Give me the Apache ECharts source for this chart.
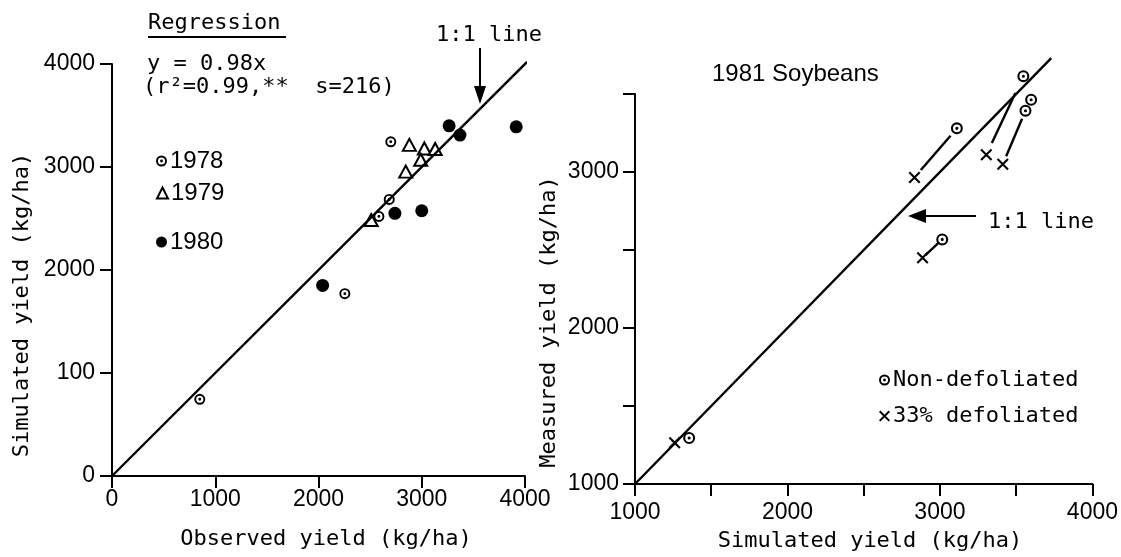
<!DOCTYPE html>
<html>
<head>
<meta charset="utf-8">
<script src="https://cdn.jsdelivr.net/npm/echarts@6/dist/echarts.min.js"></script>
<style>
  html, body { margin: 0; padding: 0; background: #fff; }
  #chart { width: 1121px; height: 557px; }
</style>
</head>
<body>
<div id="chart"></div>
<script>
// left panel: observed vs simulated yield (kg/ha)
const pts1978 = [[2700, 3245], [2685, 2685], [2585, 2520], [850, 745], [2255, 1770]];
const pts1979 = [[2880, 3215], [3025, 3180], [3130, 3175], [2990, 3070], [2845, 2955], [2510, 2485]];
const pts1980 = [[3265, 3400], [3370, 3310], [3915, 3390], [2740, 2550], [3000, 2575], [2040, 1850]];
const leftLine = [[0, 0], [4020, 4020]];
const leftXLabels = ["0", "1000", "2000", "3000", "4000"];
const leftYLabels = ["0", "100", "2000", "3000", "4000"];

// right panel: 1981 soybeans, simulated vs measured
const nonDefoliated = [[3547, 3614], [3598, 3463], [3561, 3393], [3111, 3280], [3015, 2568], [1355, 1295]];
const defoliated33 = [[3304, 3110], [3412, 3050], [2833, 2965], [2886, 2450], [1260, 1265]];
const pairs = [[0, 0], [2, 1], [3, 2], [4, 3]]; // nonDefoliated idx -> defoliated33 idx
const rightLine = [[1000, 1000], [3730, 3730]];
const rightXLabels = { 1000: "1000", 2000: "2000", 3000: "3000", 4000: "4000" };
const rightYLabels = { 1000: "1000", 2000: "2000", 3000: "3000" };

const MONO = "DejaVu Sans Mono";
const SANS = "Liberation Sans";
const dotCircle = "path://M0,-10A10,10 0 1,1 0,10A10,10 0 1,1 0,-10ZM0,-6.5A6.5,6.5 0 1,0 0,6.5A6.5,6.5 0 1,0 0,-6.5ZM0,-2.6A2.6,2.6 0 1,1 0,2.6A2.6,2.6 0 1,1 0,-2.6Z";
const xMark = "path://M-10,-7.5L-7.5,-10L10,7.5L7.5,10ZM7.5,-10L10,-7.5L-7.5,10L-10,7.5Z";

// connector segments between paired points, trimmed a little at both ends
const segments = pairs.map(([a, b]) => {
  const p = defoliated33[b], q = nonDefoliated[a];
  const t0 = 0.15, t1 = 0.85;
  return {
    coords: [
      [p[0] + (q[0] - p[0]) * t0, p[1] + (q[1] - p[1]) * t0],
      [p[0] + (q[0] - p[0]) * t1, p[1] + (q[1] - p[1]) * t1]
    ]
  };
});

const axisCommon = {
  type: "value",
  splitLine: { show: false },
  axisLine: { show: true, onZero: false, lineStyle: { color: "#000", width: 2 } },
  axisTick: { show: true, length: 12, lineStyle: { color: "#000", width: 2 } },
  axisLabel: { color: "#000", fontFamily: SANS, fontSize: 23, margin: 18 }
};

function legendItem(name, left, top) {
  return {
    data: [name],
    left: left,
    top: top,
    orient: "vertical",
    selectedMode: false,
    itemWidth: 11,
    itemHeight: 11,
    itemGap: 4,
    textStyle: { color: "#000", fontFamily: name.length === 4 ? SANS : MONO, fontSize: name.length === 4 ? 24 : 22, padding: [0, 0, 0, -2] }
  };
}

let chartDom = document.getElementById("chart");
let myChart = echarts.init(chartDom);
let option;

option = {
  animation: false,
  backgroundColor: "#fff",
  grid: [
    { left: 112, top: 64, width: 413, height: 412 },
    { left: 635, top: 94, width: 467, height: 390 }
  ],
  xAxis: [
    Object.assign({}, axisCommon, {
      gridIndex: 0, min: 0, max: 4000, interval: 1000,
      axisLabel: Object.assign({}, axisCommon.axisLabel, {
        margin: 12,
        formatter: v => leftXLabels[Math.round(v / 1000)]
      })
    }),
    Object.assign({}, axisCommon, {
      gridIndex: 1, min: 1000, max: 4000, interval: 500,
      axisLabel: Object.assign({}, axisCommon.axisLabel, {
        margin: 17,
        formatter: v => rightXLabels[v] || ""
      })
    })
  ],
  yAxis: [
    Object.assign({}, axisCommon, {
      gridIndex: 0, min: 0, max: 4000, interval: 1000,
      axisLabel: Object.assign({}, axisCommon.axisLabel, {
        margin: 17,
        formatter: v => leftYLabels[Math.round(v / 1000)]
      })
    }),
    Object.assign({}, axisCommon, {
      gridIndex: 1, min: 1000, max: 3500, interval: 500,
      axisLabel: Object.assign({}, axisCommon.axisLabel, {
        margin: 16,
        formatter: v => rightYLabels[v] || ""
      })
    })
  ],
  legend: [
    legendItem("1978", 151, 144),
    legendItem("1979", 151, 176),
    legendItem("1980", 151, 225),
    legendItem("Non-defoliated", 874, 364),
    legendItem("33% defoliated", 874, 400)
  ],
  series: [
    {
      name: "1:1 left", type: "line", xAxisIndex: 0, yAxisIndex: 0,
      data: leftLine, symbol: "none", clip: false, silent: true,
      lineStyle: { color: "#000", width: 2.4 }
    },
    {
      name: "1978", type: "scatter", xAxisIndex: 0, yAxisIndex: 0,
      data: pts1978, symbol: dotCircle, symbolSize: 11, clip: false,
      itemStyle: { color: "#000", opacity: 1 }
    },
    {
      name: "1979", type: "scatter", xAxisIndex: 0, yAxisIndex: 0,
      data: pts1979, symbol: "emptyTriangle", symbolSize: [13, 12], clip: false,
      itemStyle: { color: "#000", borderColor: "#000", borderWidth: 2, opacity: 1 }
    },
    {
      name: "1980", type: "scatter", xAxisIndex: 0, yAxisIndex: 0,
      data: pts1980, symbol: "circle", symbolSize: 13, clip: false,
      itemStyle: { color: "#000", opacity: 1 }
    },
    {
      name: "1:1 right", type: "line", xAxisIndex: 1, yAxisIndex: 1,
      data: rightLine, symbol: "none", clip: false, silent: true,
      lineStyle: { color: "#000", width: 2.4 }
    },
    {
      name: "pairs", type: "lines", coordinateSystem: "cartesian2d",
      xAxisIndex: 1, yAxisIndex: 1, data: segments, silent: true,
      lineStyle: { color: "#000", width: 2.4, opacity: 1 }
    },
    {
      name: "Non-defoliated", type: "scatter", xAxisIndex: 1, yAxisIndex: 1,
      data: nonDefoliated, symbol: dotCircle, symbolSize: 12, clip: false,
      itemStyle: { color: "#000", opacity: 1 }
    },
    {
      name: "33% defoliated", type: "scatter", xAxisIndex: 1, yAxisIndex: 1,
      data: defoliated33, symbol: xMark, symbolSize: 12, clip: false,
      itemStyle: { color: "#000", opacity: 1 }
    }
  ],
  graphic: [
    // axis titles
    { type: "text", x: 22, y: 305, rotation: Math.PI / 2,
      style: { text: "Simulated yield (kg/ha)", font: "22px " + MONO, fill: "#000", align: "center", verticalAlign: "middle" } },
    { type: "text", x: 326, y: 539,
      style: { text: "Observed yield (kg/ha)", font: "22px " + MONO, fill: "#000", align: "center", verticalAlign: "middle" } },
    { type: "text", x: 549, y: 322, rotation: Math.PI / 2,
      style: { text: "Measured yield (kg/ha)", font: "22px " + MONO, fill: "#000", align: "center", verticalAlign: "middle" } },
    { type: "text", x: 870, y: 541,
      style: { text: "Simulated yield (kg/ha)", font: "22px " + MONO, fill: "#000", align: "center", verticalAlign: "middle" } },
    // regression block
    { type: "text", x: 148, y: 23,
      style: { text: "Regression", font: "22px " + MONO, fill: "#000", align: "left", verticalAlign: "middle" } },
    { type: "line", shape: { x1: 148, y1: 37, x2: 286, y2: 37 }, style: { stroke: "#000", lineWidth: 2 } },
    { type: "text", x: 147, y: 64,
      style: { text: "y = 0.98x", font: "22px " + MONO, fill: "#000", align: "left", verticalAlign: "middle" } },
    { type: "text", x: 143, y: 87,
      style: { text: "(r\u00b2=0.99,**  s=216)", font: "22px " + MONO, fill: "#000", align: "left", verticalAlign: "middle" } },
    // left 1:1 label and arrow
    { type: "text", x: 436, y: 35,
      style: { text: "1:1 line", font: "22px " + MONO, fill: "#000", align: "left", verticalAlign: "middle" } },
    { type: "line", shape: { x1: 480, y1: 48, x2: 480, y2: 92 }, style: { stroke: "#000", lineWidth: 2 } },
    { type: "polygon", shape: { points: [[474, 86], [486, 86], [480, 104]] }, style: { fill: "#000" } },
    // right panel title and 1:1 label
    { type: "text", x: 712, y: 74,
      style: { text: "1981 Soybeans", font: "24px " + SANS, fill: "#000", align: "left", verticalAlign: "middle" } },
    { type: "text", x: 988, y: 222,
      style: { text: "1:1 line", font: "22px " + MONO, fill: "#000", align: "left", verticalAlign: "middle" } },
    { type: "line", shape: { x1: 922, y1: 216, x2: 976, y2: 216 }, style: { stroke: "#000", lineWidth: 2 } },
    { type: "polygon", shape: { points: [[926, 209], [926, 223], [908, 216]] }, style: { fill: "#000" } }
  ]
};

option && myChart.setOption(option);
</script>
</body>
</html>
